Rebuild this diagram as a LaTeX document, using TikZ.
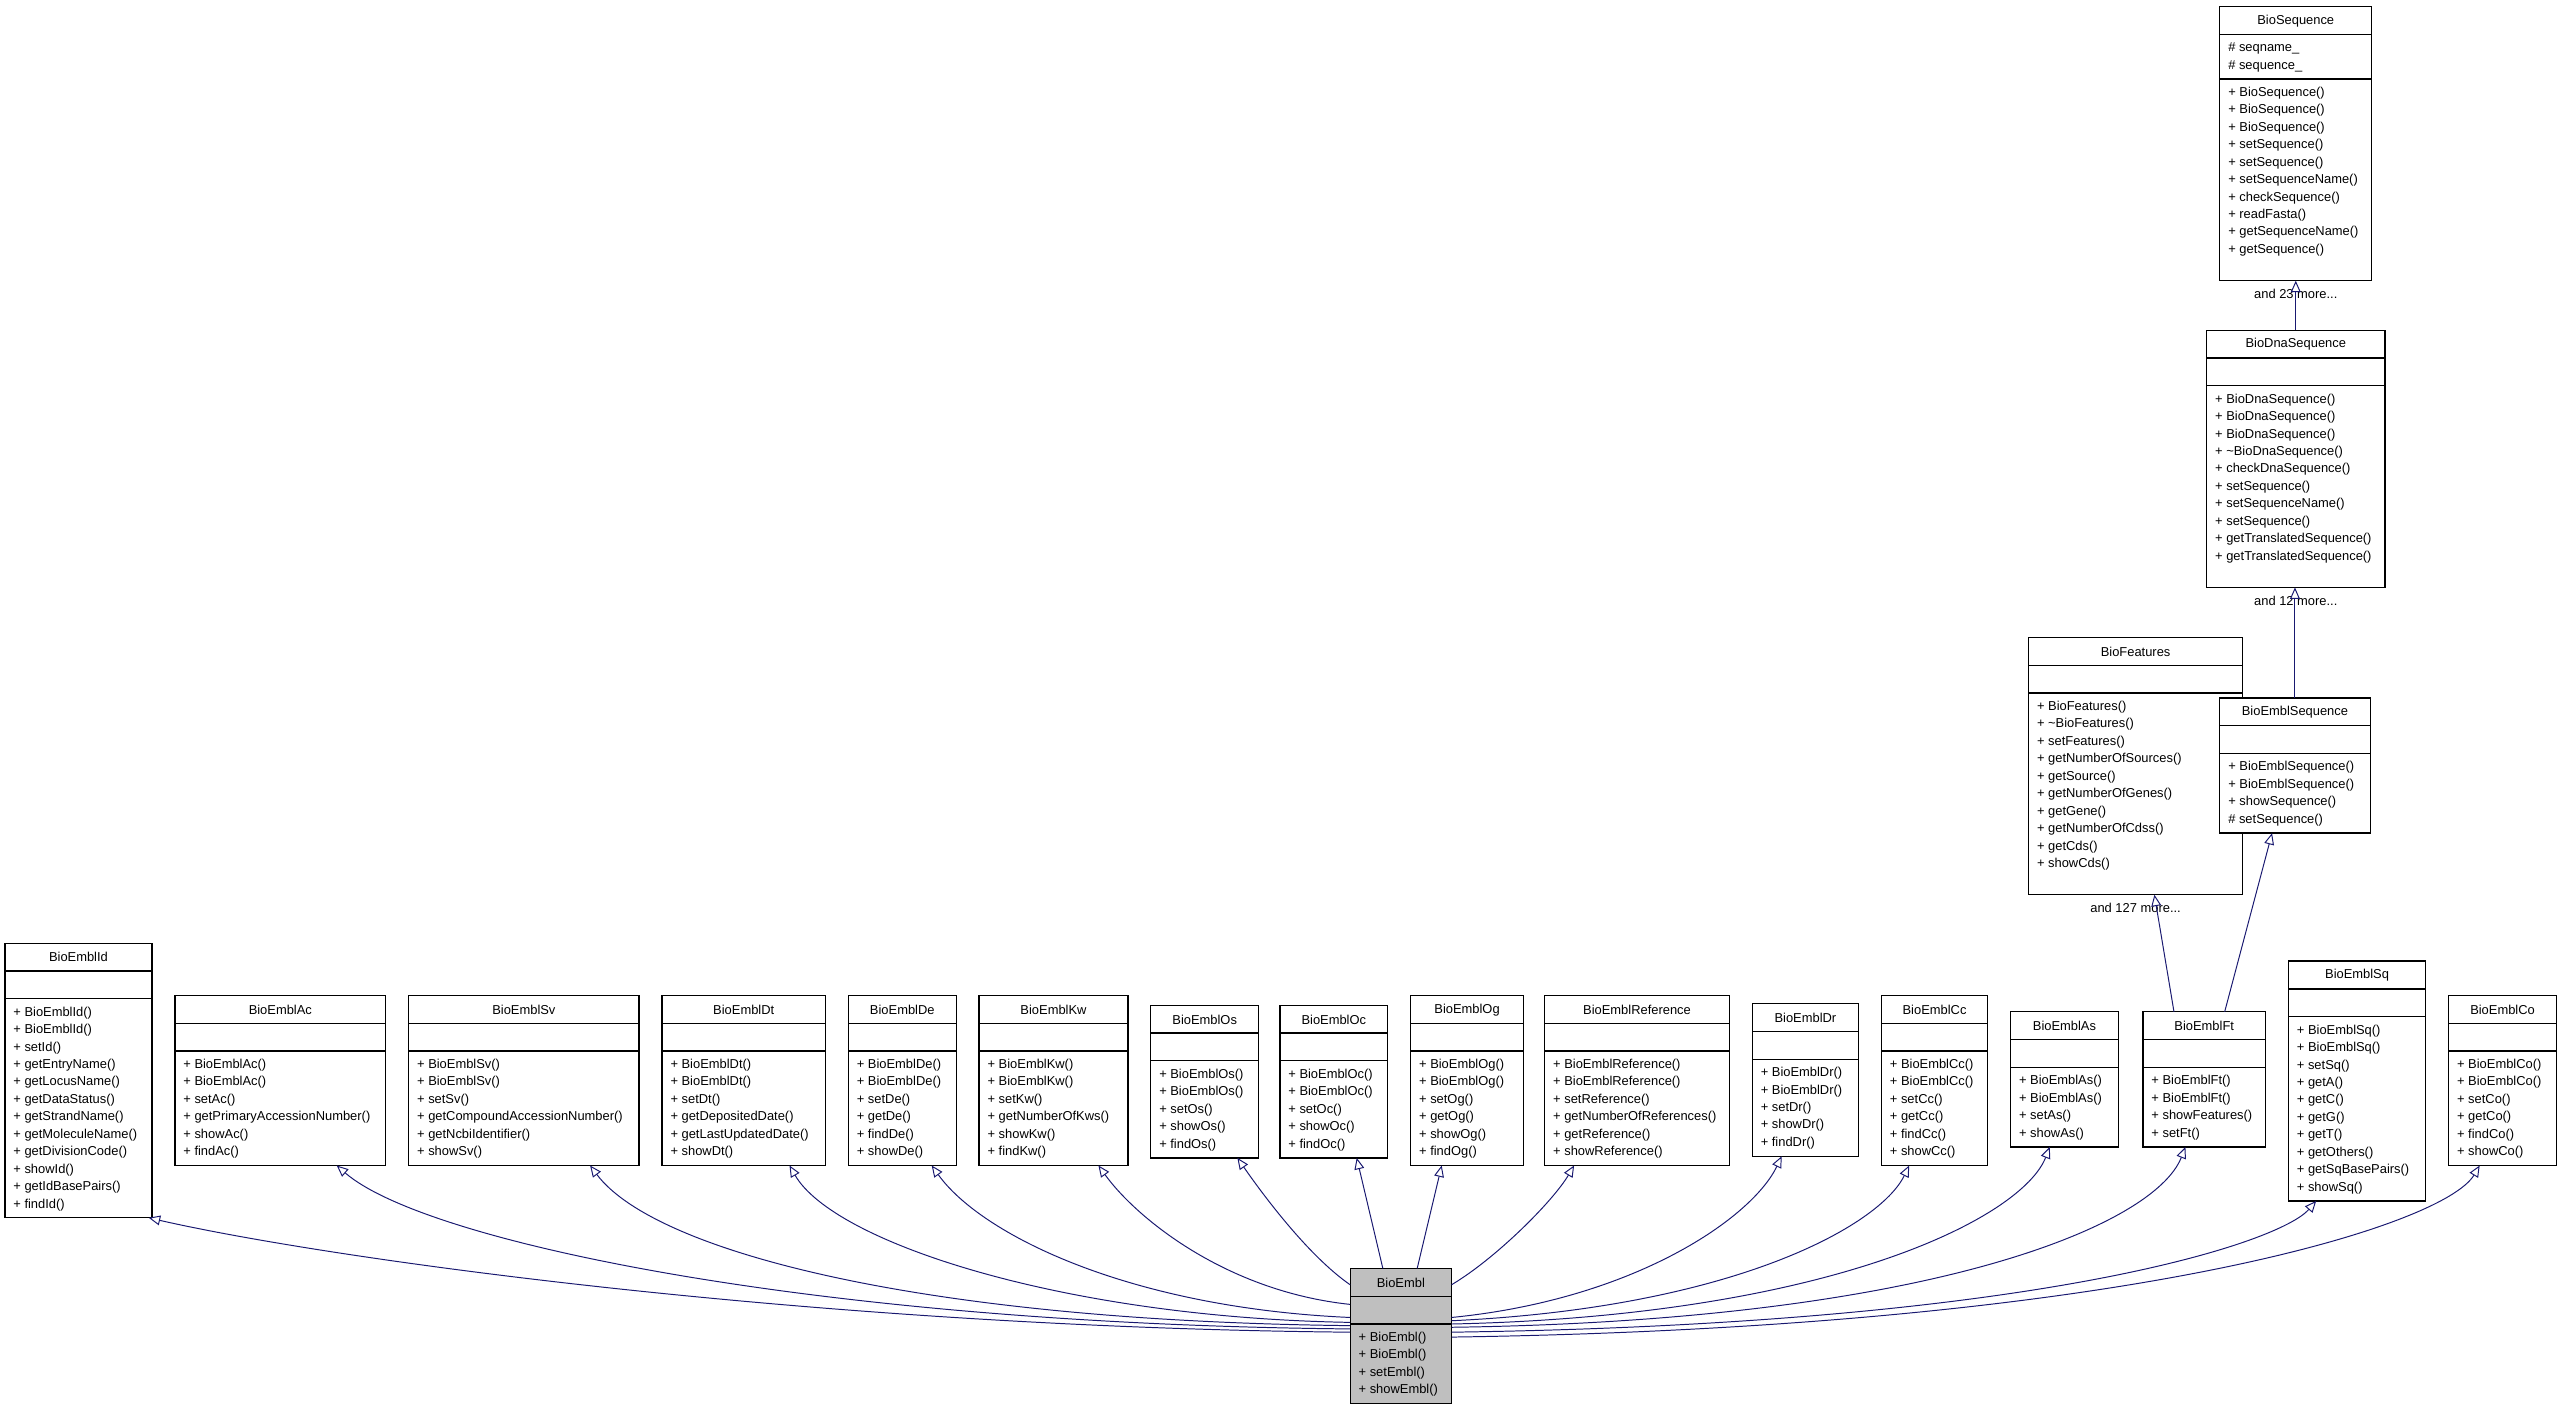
\documentclass[tikz,border=0pt]{standalone}
\usepackage{fontspec}
\setmainfont{Liberation Sans}
\usetikzlibrary{arrows.meta,calc}
\definecolor{edgeblue}{HTML}{191970}
\newcommand\umlcls[9]{%
  \pgfmathsetmacro\hA{ifthenelse(#6==0,17,#6*10.67+6)}%
  \pgfmathsetmacro\hM{#8*10.67+6}%
  \pgfmathsetmacro\yA{#4+17}%
  \pgfmathsetmacro\yM{#4+17+\hA}%
  \pgfmathsetmacro\yB{#4+17+\hA+\hM}%
  \pgfmathsetmacro\xm{(#2+#3)/2}%
  \node[boxframe, fill=#9, minimum width={(#3-#2)*1pt}, minimum height={(\yB-#4)*1pt}, anchor=north west] (#1) at (#2,#4) {};
  \draw[boxline] (#2,\yA) -- (#3,\yA) (#2,\yM) -- (#3,\yM);
  \node[txt] (#1-t) at (\xm,#4+8.7) {#5};
  \node[txt, align=left, anchor=north west] (#1-a) at (#2+5,\yA+3) {\strut #7};
  \node[txt, align=left, anchor=north west] (#1-m) at (#2+5,\yM+3) {\strut #9x};
}
\newcommand\umlclass[9]{%
  \pgfmathsetmacro\hA{ifthenelse(#6==0,17,#6*10.67+6)}%
  \pgfmathsetmacro\hM{#8*10.67+6}%
  \pgfmathsetmacro\yA{#4+17}%
  \pgfmathsetmacro\yM{#4+17+\hA}%
  \pgfmathsetmacro\yB{#4+17+\hA+\hM}%
  \pgfmathsetmacro\xm{(#2+#3)/2}%
  \node[boxframe, fill=#1fill, minimum width={(#3-#2)*1pt}, minimum height={(\yB-#4)*1pt}, anchor=north west] (#1) at (#2,#4) {};
  \draw[boxline] (#2,\yA) -- (#3,\yA) (#2,\yM) -- (#3,\yM);
  \node[txt] (#1-t) at (\xm,#4+8.7) {#5};
  \node[txt, align=left, anchor=north west] (#1-a) at (#2+5,\yA+3) {\strut #7};
  \node[txt, align=left, anchor=north west] (#1-m) at (#2+5,\yM+3) {\strut #9};
}
\begin{document}
\begin{tikzpicture}[x=1pt,y=-1pt,
  boxframe/.style={draw=black, line width=0.8pt, inner sep=0pt, outer sep=0pt},
  boxline/.style={draw=black, line width=0.8pt},
  txt/.style={inner sep=0pt, font=\fontsize{7.9}{10.67}\selectfont},
  inh/.style={draw=edgeblue, line width=0.6pt, -{Triangle[open, length=7pt, width=6pt, fill=white]}},
  every node/.append style={}]
\useasboundingbox (0,0) rectangle (1568,864);
\colorlet{Idfill}{white}\colorlet{Acfill}{white}\colorlet{Svfill}{white}\colorlet{Dtfill}{white}
\colorlet{Defill}{white}\colorlet{Kwfill}{white}\colorlet{Osfill}{white}\colorlet{Ocfill}{white}
\colorlet{Ogfill}{white}\colorlet{Reffill}{white}\colorlet{Drfill}{white}\colorlet{Ccfill}{white}
\colorlet{Asfill}{white}\colorlet{Ftfill}{white}\colorlet{Sqfill}{white}\colorlet{Cofill}{white}
\colorlet{Featfill}{white}\colorlet{ESeqfill}{white}\colorlet{DnaSfill}{white}\colorlet{Seqfill}{white}
\definecolor{Emblfill}{HTML}{BFBFBF}

\umlclass{Id}{3}{93}{577}{BioEmblId}{0}{}{12}{+ BioEmblId()\\+ BioEmblId()\\+ setId()\\+ getEntryName()\\+ getLocusName()\\+ getDataStatus()\\+ getStrandName()\\+ getMoleculeName()\\+ getDivisionCode()\\+ showId()\\+ getIdBasePairs()\\+ findId()}
\umlclass{Ac}{107}{236}{609}{BioEmblAc}{0}{}{6}{+ BioEmblAc()\\+ BioEmblAc()\\+ setAc()\\+ getPrimaryAccessionNumber()\\+ showAc()\\+ findAc()}
\umlclass{Sv}{250}{391}{609}{BioEmblSv}{0}{}{6}{+ BioEmblSv()\\+ BioEmblSv()\\+ setSv()\\+ getCompoundAccessionNumber()\\+ getNcbiIdentifier()\\+ showSv()}
\umlclass{Dt}{405}{505}{609}{BioEmblDt}{0}{}{6}{+ BioEmblDt()\\+ BioEmblDt()\\+ setDt()\\+ getDepositedDate()\\+ getLastUpdatedDate()\\+ showDt()}
\umlclass{De}{519}{585}{609}{BioEmblDe}{0}{}{6}{+ BioEmblDe()\\+ BioEmblDe()\\+ setDe()\\+ getDe()\\+ findDe()\\+ showDe()}
\umlclass{Kw}{599}{690}{609}{BioEmblKw}{0}{}{6}{+ BioEmblKw()\\+ BioEmblKw()\\+ setKw()\\+ getNumberOfKws()\\+ showKw()\\+ findKw()}
\umlclass{Os}{704}{770}{615}{BioEmblOs}{0}{}{5}{+ BioEmblOs()\\+ BioEmblOs()\\+ setOs()\\+ showOs()\\+ findOs()}
\umlclass{Oc}{783}{849}{615}{BioEmblOc}{0}{}{5}{+ BioEmblOc()\\+ BioEmblOc()\\+ setOc()\\+ showOc()\\+ findOc()}
\umlclass{Og}{863}{932}{609}{BioEmblOg}{0}{}{6}{+ BioEmblOg()\\+ BioEmblOg()\\+ setOg()\\+ getOg()\\+ showOg()\\+ findOg()}
\umlclass{Ref}{945}{1058}{609}{BioEmblReference}{0}{}{6}{+ BioEmblReference()\\+ BioEmblReference()\\+ setReference()\\+ getNumberOfReferences()\\+ getReference()\\+ showReference()}
\umlclass{Dr}{1072}{1137}{614}{BioEmblDr}{0}{}{5}{+ BioEmblDr()\\+ BioEmblDr()\\+ setDr()\\+ showDr()\\+ findDr()}
\umlclass{Cc}{1151}{1216}{609}{BioEmblCc}{0}{}{6}{+ BioEmblCc()\\+ BioEmblCc()\\+ setCc()\\+ getCc()\\+ findCc()\\+ showCc()}
\umlclass{As}{1230}{1296}{619}{BioEmblAs}{0}{}{4}{+ BioEmblAs()\\+ BioEmblAs()\\+ setAs()\\+ showAs()}
\umlclass{Ft}{1311}{1386}{619}{BioEmblFt}{0}{}{4}{+ BioEmblFt()\\+ BioEmblFt()\\+ showFeatures()\\+ setFt()}
\umlclass{Sq}{1400}{1484}{588}{BioEmblSq}{0}{}{10}{+ BioEmblSq()\\+ BioEmblSq()\\+ setSq()\\+ getA()\\+ getC()\\+ getG()\\+ getT()\\+ getOthers()\\+ getSqBasePairs()\\+ showSq()}
\umlclass{Co}{1498}{1564}{609}{BioEmblCo}{0}{}{6}{+ BioEmblCo()\\+ BioEmblCo()\\+ setCo()\\+ getCo()\\+ findCo()\\+ showCo()}
\umlclass{Embl}{826}{888}{776}{BioEmbl}{0}{}{4}{+ BioEmbl()\\+ BioEmbl()\\+ setEmbl()\\+ showEmbl()}
\umlclass{Feat}{1241}{1372}{390}{BioFeatures}{0}{}{11}{+ BioFeatures()\\+ \textasciitilde BioFeatures()\\+ setFeatures()\\+ getNumberOfSources()\\+ getSource()\\+ getNumberOfGenes()\\+ getGene()\\+ getNumberOfCdss()\\+ getCds()\\+ showCds()}
\umlclass{ESeq}{1358}{1450}{427}{BioEmblSequence}{0}{}{4}{+ BioEmblSequence()\\+ BioEmblSequence()\\+ showSequence()\\\# setSequence()}
\umlclass{DnaS}{1350}{1459}{202}{BioDnaSequence}{0}{}{11}{+ BioDnaSequence()\\+ BioDnaSequence()\\+ BioDnaSequence()\\+ \textasciitilde BioDnaSequence()\\+ checkDnaSequence()\\+ setSequence()\\+ setSequenceName()\\+ setSequence()\\+ getTranslatedSequence()\\+ getTranslatedSequence()}
\umlclass{Seq}{1358}{1451}{4}{BioSequence}{2}{\# seqname\_\\\# sequence\_}{11}{+ BioSequence()\\+ BioSequence()\\+ BioSequence()\\+ setSequence()\\+ setSequence()\\+ setSequenceName()\\+ checkSequence()\\+ readFasta()\\+ getSequenceName()\\+ getSequence()}
\node[txt] (Feat-more) at ($(Feat.south)+(0,8)$) {and 127 more...};
\node[txt] (DnaS-more) at ($(DnaS.south)+(0,8)$) {and 12 more...};
\node[txt] (Seq-more) at ($(Seq.south)+(0,8)$) {and 23 more...};

% inheritance edges
\draw[inh] ([yshift=-39pt]Embl.north west) .. controls (500,812) and (200,770) .. ([xshift=-2pt]Id.south east);
\draw[inh] ([yshift=-37pt]Embl.north west) .. controls (500,810) and (260,760) .. ([xshift=-30pt]Ac.south east);
\draw[inh] ([yshift=-35pt]Embl.north west) .. controls (560,808) and (400,765) .. ([xshift=-30pt]Sv.south east);
\draw[inh] ([yshift=-33pt]Embl.north west) .. controls (650,806) and (510,760) .. ([xshift=-22pt]Dt.south east);
\draw[inh] ([yshift=-30pt]Embl.north west) .. controls (690,800) and (600,755) .. ([xshift=-15pt]De.south east);
\draw[inh] ([yshift=-22pt]Embl.north west) .. controls (750,790) and (695,745) .. ([xshift=-18pt]Kw.south east);
\draw[inh] ([yshift=-10pt]Embl.north west) .. controls (800,768) and (772,730) .. ([xshift=-13pt]Os.south east);
\draw[inh] ([xshift=20pt]Embl.north west) -- ([xshift=-19pt]Oc.south east);
\draw[inh] ([xshift=-21pt]Embl.north east) -- ([xshift=19pt]Og.south west);
\draw[inh] ([yshift=-10pt]Embl.north east) .. controls (915,770) and (950,735) .. ([xshift=18pt]Ref.south west);
\draw[inh] ([yshift=-30pt]Embl.north east) .. controls (1000,795) and (1072,745) .. ([xshift=-47pt]Dr.south east);
\draw[inh] ([yshift=-32pt]Embl.north east) .. controls (1060,800) and (1150,750) .. ([xshift=17pt]Cc.south west);
\draw[inh] ([yshift=-34pt]Embl.north east) .. controls (1120,805) and (1237,745) .. ([xshift=24pt]As.south west);
\draw[inh] ([yshift=-36pt]Embl.north east) .. controls (1180,808) and (1318,750) .. ([xshift=26pt]Ft.south west);
\draw[inh] ([yshift=-39pt]Embl.north east) .. controls (1250,810) and (1395,760) .. ([xshift=17pt]Sq.south west);
\draw[inh] ([yshift=-42pt]Embl.north east) .. controls (1300,812) and (1495,750) .. ([xshift=19pt]Co.south west);
\draw[inh] ([xshift=19pt]Ft.north west) -- ([xshift=-54pt]Feat.south east);
\draw[inh] ([xshift=50pt]Ft.north west) -- ([xshift=32pt]ESeq.south west);
\draw[inh] (ESeq.north) -- ([xshift=-0.5pt]DnaS.south);
\draw[inh] (DnaS.north) -- (Seq.south);
\end{tikzpicture}
\end{document}
